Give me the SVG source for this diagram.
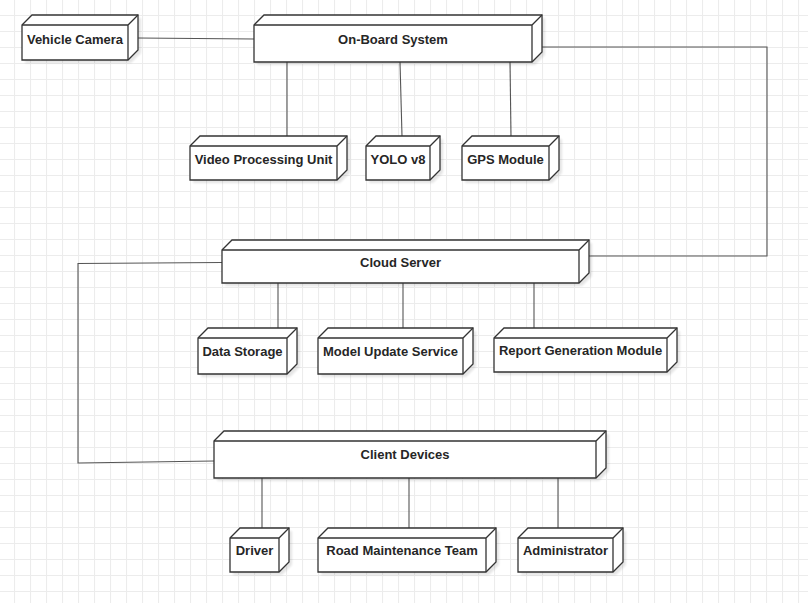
<svg xmlns="http://www.w3.org/2000/svg" width="808" height="603" viewBox="0 0 808 603">
<defs>
<pattern id="grid" x="14" y="15" width="16" height="16" patternUnits="userSpaceOnUse">
<path d="M0.5 0V16M0 0.5H16" stroke="#ececec" stroke-width="1.2" fill="none"/>
</pattern>
<filter id="sh" x="-10%" y="-20%" width="130%" height="150%">
<feGaussianBlur stdDeviation="1.2"/>
</filter>
<style>
.sh{fill:#000;opacity:0.1;filter:url(#sh)}
.body{fill:#fff;stroke:#333;stroke-width:1.3;stroke-linejoin:miter}
.in{fill:none;stroke:#333;stroke-width:1.3}
.lbl{font-family:"Liberation Sans",Arial,sans-serif;font-size:13px;font-weight:bold;fill:#262626;text-anchor:middle}
.cn{fill:none;stroke:#555;stroke-width:1.1}
</style>
</defs>
<rect width="808" height="603" fill="#fff"/>
<rect width="808" height="603" fill="url(#grid)"/>

<g id="connectors">
<path class="cn" d="M138 38L254 39"/>
<path class="cn" d="M287 62V136"/>
<path class="cn" d="M400 62L402 136"/>
<path class="cn" d="M510 62L511 136"/>
<path class="cn" d="M542 47H767V256H589"/>
<path class="cn" d="M278 283V328"/>
<path class="cn" d="M403 283V328"/>
<path class="cn" d="M534 283V328"/>
<path class="cn" d="M222 262.5L78 263.5V463L214 461"/>
<path class="cn" d="M262 478V528"/>
<path class="cn" d="M409 478V528"/>
<path class="cn" d="M558 478V528"/>
</g>

<g id="vehicle-camera" transform="translate(22,15)">
<path class="sh" transform="translate(3,3)" d="M0 10L10 0H116V35L106 45H0Z"/>
<path class="body" d="M0 10L10 0H116V35L106 45H0Z"/>
<path class="in" d="M0 10H106L116 0M106 10V45"/>
<text class="lbl" x="53" y="28.5">Vehicle Camera</text>
</g>

<g id="on-board-system" transform="translate(254,15)">
<path class="sh" transform="translate(3,3)" d="M0 10L10 0H288V37L278 47H0Z"/>
<path class="body" d="M0 10L10 0H288V37L278 47H0Z"/>
<path class="in" d="M0 10H278L288 0M278 10V47"/>
<text class="lbl" x="139" y="28.5">On-Board System</text>
</g>

<g id="video-processing-unit" transform="translate(190,136)">
<path class="sh" transform="translate(3,3)" d="M0 10L10 0H157V34L147 44H0Z"/>
<path class="body" d="M0 10L10 0H157V34L147 44H0Z"/>
<path class="in" d="M0 10H147L157 0M147 10V44"/>
<text class="lbl" x="73.5" y="28">Video Processing Unit</text>
</g>

<g id="yolo-v8" transform="translate(366,136)">
<path class="sh" transform="translate(3,3)" d="M0 10L10 0H74V34L64 44H0Z"/>
<path class="body" d="M0 10L10 0H74V34L64 44H0Z"/>
<path class="in" d="M0 10H64L74 0M64 10V44"/>
<text class="lbl" x="32" y="28">YOLO v8</text>
</g>

<g id="gps-module" transform="translate(462,136)">
<path class="sh" transform="translate(3,3)" d="M0 10L10 0H97V34L87 44H0Z"/>
<path class="body" d="M0 10L10 0H97V34L87 44H0Z"/>
<path class="in" d="M0 10H87L97 0M87 10V44"/>
<text class="lbl" x="43.5" y="28">GPS Module</text>
</g>

<g id="cloud-server" transform="translate(222,240)">
<path class="sh" transform="translate(3,3)" d="M0 10L10 0H367V33L357 43H0Z"/>
<path class="body" d="M0 10L10 0H367V33L357 43H0Z"/>
<path class="in" d="M0 10H357L367 0M357 10V43"/>
<text class="lbl" x="178.5" y="27">Cloud Server</text>
</g>

<g id="data-storage" transform="translate(198,328)">
<path class="sh" transform="translate(3,3)" d="M0 10L10 0H99V36L89 46H0Z"/>
<path class="body" d="M0 10L10 0H99V36L89 46H0Z"/>
<path class="in" d="M0 10H89L99 0M89 10V46"/>
<text class="lbl" x="44.5" y="27.5">Data Storage</text>
</g>

<g id="model-update-service" transform="translate(318,328)">
<path class="sh" transform="translate(3,3)" d="M0 10L10 0H155V36L145 46H0Z"/>
<path class="body" d="M0 10L10 0H155V36L145 46H0Z"/>
<path class="in" d="M0 10H145L155 0M145 10V46"/>
<text class="lbl" x="72.5" y="27.5">Model Update Service</text>
</g>

<g id="report-generation-module" transform="translate(494,328)">
<path class="sh" transform="translate(3,3)" d="M0 10L10 0H183V34L173 44H0Z"/>
<path class="body" d="M0 10L10 0H183V34L173 44H0Z"/>
<path class="in" d="M0 10H173L183 0M173 10V44"/>
<text class="lbl" x="86.5" y="27">Report Generation Module</text>
</g>

<g id="client-devices" transform="translate(214,431)">
<path class="sh" transform="translate(3,3)" d="M0 10L10 0H392V37L382 47H0Z"/>
<path class="body" d="M0 10L10 0H392V37L382 47H0Z"/>
<path class="in" d="M0 10H382L392 0M382 10V47"/>
<text class="lbl" x="191" y="28">Client Devices</text>
</g>

<g id="driver" transform="translate(230,528)">
<path class="sh" transform="translate(3,3)" d="M0 10L10 0H59V34L49 44H0Z"/>
<path class="body" d="M0 10L10 0H59V34L49 44H0Z"/>
<path class="in" d="M0 10H49L59 0M49 10V44"/>
<text class="lbl" x="24.5" y="27">Driver</text>
</g>

<g id="road-maintenance-team" transform="translate(318,528)">
<path class="sh" transform="translate(3,3)" d="M0 10L10 0H178V34L168 44H0Z"/>
<path class="body" d="M0 10L10 0H178V34L168 44H0Z"/>
<path class="in" d="M0 10H168L178 0M168 10V44"/>
<text class="lbl" x="84" y="27">Road Maintenance Team</text>
</g>

<g id="administrator" transform="translate(518,528)">
<path class="sh" transform="translate(3,3)" d="M0 10L10 0H105V34L95 44H0Z"/>
<path class="body" d="M0 10L10 0H105V34L95 44H0Z"/>
<path class="in" d="M0 10H95L105 0M95 10V44"/>
<text class="lbl" x="47.5" y="27">Administrator</text>
</g>
</svg>
